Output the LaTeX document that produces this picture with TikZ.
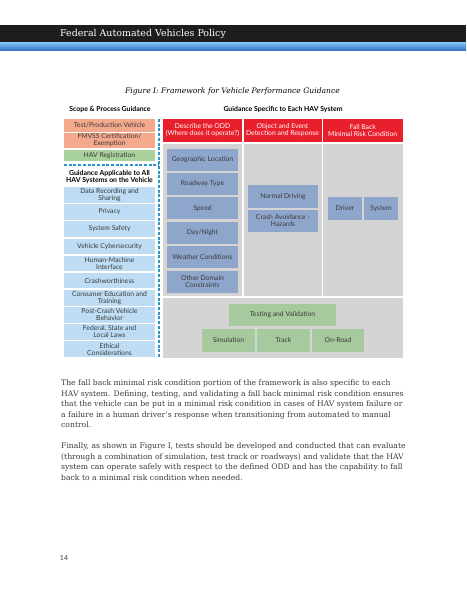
\documentclass[tikz,border=0pt]{standalone}
\usepackage{fontspec}
\setmainfont{DejaVu Serif}
\setsansfont{Lato}
\usepackage{tikz}
\usetikzlibrary{positioning}
\definecolor{HeadBlack}{HTML}{1F1C1D}
\definecolor{StripeTop}{HTML}{7CC0F2}
\definecolor{StripeBot}{HTML}{2D6BC2}
\definecolor{Ink}{HTML}{3A3A3A}
\definecolor{Salmon}{HTML}{F5A98C}
\definecolor{Mint}{HTML}{A9D19B}
\definecolor{SkyBlue}{HTML}{BEDDF4}
\definecolor{HeadRed}{HTML}{E8202D}
\definecolor{Panel}{HTML}{D4D4D4}
\definecolor{Slate}{HTML}{8FA6CC}
\definecolor{Sage}{HTML}{A6CA9D}
\definecolor{Teal}{HTML}{2A95C8}
\newcommand{\boxfont}{\sffamily\fontsize{6.8}{7}\selectfont}

\begin{document}
\begin{tikzpicture}[x=1pt,y=-1pt,
  box/.style={inner sep=0pt,align=center,font=\boxfont,text=Ink},
  scope/.style={box,minimum width=91pt},
  leftbox/.style={box,fill=SkyBlue,minimum width=91pt,minimum height=15.6pt},
  redhead/.style={box,fill=HeadRed,text=white,minimum height=23pt},
  column/.style={fill=Panel,inner sep=0pt},
  oddbox/.style={box,fill=Slate,minimum width=71pt,minimum height=22pt},
  objbox/.style={box,fill=Slate,minimum width=70pt,minimum height=22.5pt},
  fallbox/.style={box,fill=Slate,minimum width=34pt,minimum height=23pt},
  testbox/.style={box,fill=Sage,minimum height=23pt},
  heading/.style={font=\sffamily\bfseries\fontsize{6.9}{7.2}\selectfont,text=black,align=center},
  divider/.style={draw=Teal,line width=1.2pt,dash pattern=on 3pt off 1.7pt},
  body/.style={anchor=north west,inner sep=0pt,align=left,text=Ink,
    font=\fontsize{7.65}{10.5}\selectfont}
]
\useasboundingbox (0,0) rectangle (466,599);

% page header
\fill[HeadBlack] (0,25) rectangle (466,43);
\shade[top color=StripeTop,bottom color=StripeBot] (0,43) rectangle (466,51);
\node[anchor=west,inner sep=0pt,text=white,font=\fontsize{9.45}{11}\selectfont] (pagetitle) at (60,34) {Federal Automated Vehicles Policy};

\node[font=\itshape\fontsize{7.6}{9}\selectfont,text=black] (caption) at (232.5,91) {Figure I: Framework for Vehicle Performance Guidance};

% column headings
\node[heading] (scopehead) at (110,110) {Scope \& Process Guidance};
\node[heading] (hav) at (283,110) {Guidance Specific to Each HAV System};

% scope and process
\node[scope,fill=Salmon,minimum height=12.5pt] (testveh) at (109.5,125.3) {Test/Production Vehicle};
\node[scope,fill=Salmon,minimum height=15.5pt] (fmvss) at (109.5,140.3) {FMVSS Certification/\\Exemption};
\node[scope,fill=Mint,minimum height=11.5pt] (registration) at (109.5,155.3) {HAV Registration};
\node[heading] (allhav) at (109.5,177) {Guidance Applicable to All\\HAV Systems on the Vehicle};

\node[leftbox] (datarec) at (109.5,194.8) {Data Recording and\\Sharing};
\node[leftbox] (privacy) at (109.5,212.0) {Privacy};
\node[leftbox] (safety) at (109.5,229.1) {System Safety};
\node[leftbox] (cyber) at (109.5,246.3) {Vehicle Cybersecurity};
\node[leftbox] (hmi) at (109.5,263.4) {Human-Machine\\Interface};
\node[leftbox] (crash) at (109.5,280.6) {Crashworthiness};
\node[leftbox] (consumer) at (109.5,297.7) {Consumer Education and\\Training};
\node[leftbox] (postcrash) at (109.5,314.9) {Post-Crash Vehicle\\Behavior};
\node[leftbox] (laws) at (109.5,332.0) {Federal, State and\\Local Laws};
\node[leftbox] (ethics) at (109.5,349.2) {Ethical\\Considerations};

% dividers
\coordinate (divtop) at (159,119);
\coordinate (divbot) at (159,358);
\coordinate (divleft) at (64,165);
\coordinate (divmid) at (159,165);
\draw[divider] (divtop) -- (divbot);
\draw[divider] (divleft) -- (divmid);

% HAV specific
\node[redhead,minimum width=79pt] (odd) at (202.5,130.5) {Describe the ODD\\(Where does it operate?)};
\node[redhead,minimum width=78pt] (objevent) at (282.5,130.5) {Object and Event\\Detection and Response};
\node[redhead,minimum width=79.5pt] (fallback) at (362.75,130.5) {Fall Back\\Minimal Risk Condition};

\node[column,minimum width=79pt,minimum height=152pt] (oddcol) at (202.5,220) {};
\node[column,minimum width=78pt,minimum height=152pt] (objcol) at (282.5,220) {};
\node[column,minimum width=79.5pt,minimum height=152pt] (fallcol) at (362.75,220) {};
\node[column,minimum width=239.5pt,minimum height=60pt] (testpanel) at (282.75,328) {};

\node[oddbox] (geo) at (202.5,159.5) {Geographic Location};
\node[oddbox] (roadway) at (202.5,183.9) {Roadway Type};
\node[oddbox] (speed) at (202.5,208.3) {Speed};
\node[oddbox] (daynight) at (202.5,232.7) {Day/Night};
\node[oddbox] (weather) at (202.5,257.1) {Weather Conditions};
\node[oddbox] (otherdom) at (202.5,281.5) {Other Domain\\Constraints};

\node[objbox] (normal) at (283,196.5) {Normal Driving};
\node[objbox] (avoid) at (283,221) {Crash Avoidance -\\Hazards};

\node[fallbox] (driver) at (345,208.5) {Driver};
\node[fallbox] (system) at (381,208.5) {System};

\node[testbox,minimum width=107pt,minimum height=22pt] (testval) at (282.5,315) {Testing and Validation};
\node[testbox,minimum width=53pt] (sim) at (228.5,340.5) {Simulation};
\node[testbox,minimum width=53pt] (track) at (283.5,340.5) {Track};
\node[testbox,minimum width=52pt] (onroad) at (338,340.5) {On-Road};

% page text
\node[body] (para1) at (61,379.5) {The fall back minimal risk condition portion of the framework is also specific to each\\
HAV system. Defining, testing, and validating a fall back minimal risk condition ensures\\
that the vehicle can be put in a minimal risk condition in cases of HAV system failure or\\
a failure in a human driver's response when transitioning from automated to manual\\
control.};
\node[body] (para2) at (61,442.5) {Finally, as shown in Figure I, tests should be developed and conducted that can evaluate\\
(through a combination of simulation, test track or roadways) and validate that the HAV\\
system can operate safely with respect to the defined ODD and has the capability to fall\\
back to a minimal risk condition when needed.};

\node[font=\sffamily\fontsize{7}{8}\selectfont,text=Ink] (pagenum) at (64,558) {14};
\end{tikzpicture}
\end{document}
